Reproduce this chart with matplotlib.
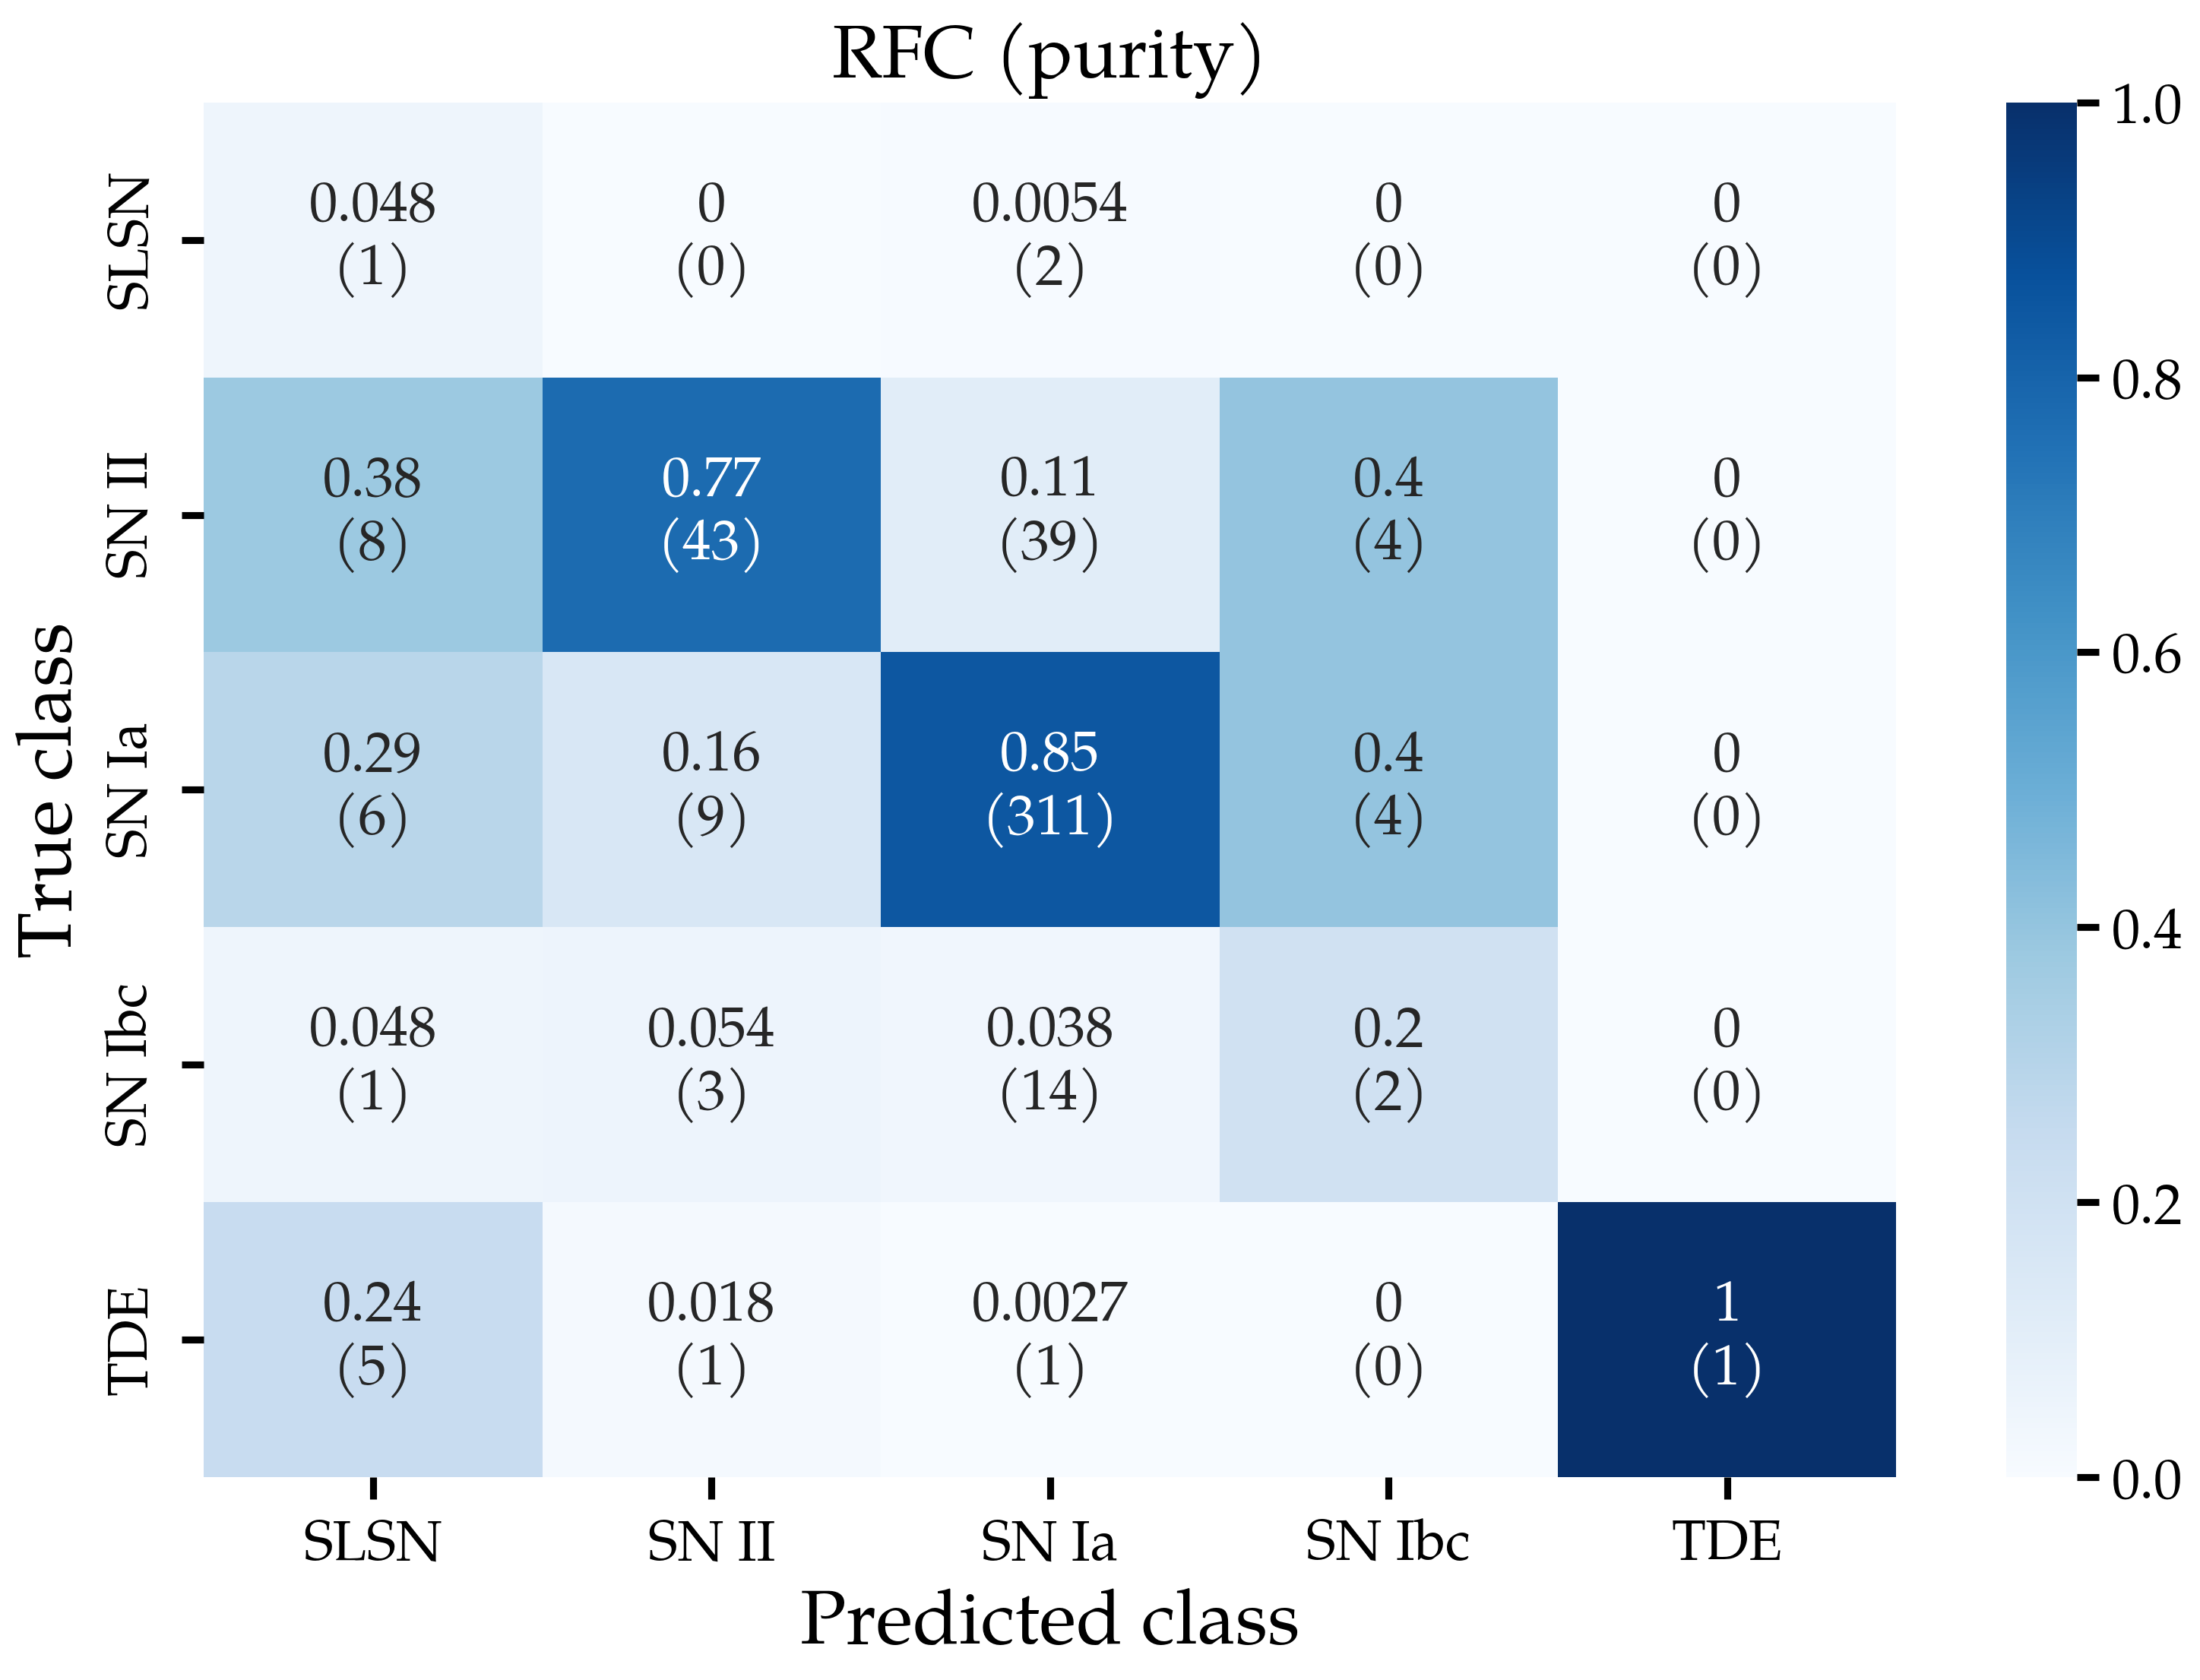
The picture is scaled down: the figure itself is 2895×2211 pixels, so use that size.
import numpy as np
import matplotlib
matplotlib.use("Agg")
import matplotlib.pyplot as plt
import seaborn as sns

classes = ["SLSN", "SN II", "SN Ia", "SN Ibc", "TDE"]
purity = [
    [0.048, 0, 0.0054, 0, 0],
    [0.38, 0.77, 0.11, 0.4, 0],
    [0.29, 0.16, 0.85, 0.4, 0],
    [0.048, 0.054, 0.038, 0.2, 0],
    [0.24, 0.018, 0.0027, 0, 1],
]
counts = [
    [1, 0, 2, 0, 0],
    [8, 43, 39, 4, 0],
    [6, 9, 311, 4, 0],
    [1, 3, 14, 2, 0],
    [5, 1, 1, 0, 1],
]

plt.rcParams['font.family'] = ['TeX Gyre Pagella', 'Palatino Linotype', 'URW Palladio L', 'Liberation Serif', 'DejaVu Serif']

P = np.array(purity, dtype=float)
C = np.array(counts)
labels = np.array([[f"{P[i, j]:.2g}\n({C[i, j]})" for j in range(5)] for i in range(5)])

fig = plt.figure(figsize=(9.65, 7.37), dpi=300)
ax = fig.add_axes([0.0926, 0.1208, 0.7694, 0.8182])
cax = fig.add_axes([0.912, 0.1208, 0.032, 0.8182])

sns.heatmap(P, ax=ax, cbar_ax=cax, cmap="Blues", vmin=0, vmax=1,
            annot=labels, fmt="", annot_kws={"fontsize": 18, "linespacing": 1.15},
            xticklabels=classes, yticklabels=classes)

ax.set_title("RFC (purity)", fontsize=23.5, pad=8)
ax.set_xlabel("Predicted class", fontsize=24, labelpad=4)
ax.set_ylabel("True class", fontsize=24)
ax.tick_params(axis='both', which='major', direction='out', length=7, width=2.2,
               labelsize=17.6, color='black', pad=6)
plt.setp(ax.get_yticklabels(), rotation=90, va='center')
plt.setp(ax.get_xticklabels(), rotation=0)

cax.tick_params(direction='out', length=7, width=2.2, labelsize=18, color='black', pad=4)
cax.set_yticks([0, 0.2, 0.4, 0.6, 0.8, 1.0])
cax.set_yticklabels(["0.0", "0.2", "0.4", "0.6", "0.8", "1.0"])
for s in cax.spines.values():
    s.set_visible(False)

fig.savefig("out.png", dpi=300)
